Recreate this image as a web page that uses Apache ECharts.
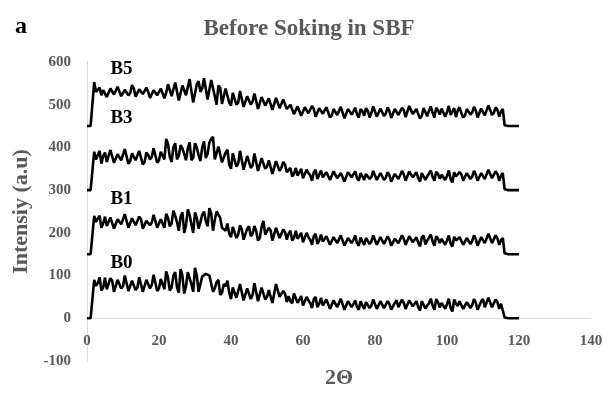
<!DOCTYPE html>
<html>
<head>
<meta charset="utf-8">
<script src="https://cdn.jsdelivr.net/npm/echarts@6/dist/echarts.min.js"></script>
<style>
  html, body { margin: 0; padding: 0; background: #fff; }
  #main { width: 608px; height: 400px; }
</style>
</head>
<body>
<div id="main"></div>
<script>
// 2θ positions, one reading every half degree from 0 to 120
var twoTheta = [];
for (var i = 0; i <= 240; i++) twoTheta.push(i / 2);

var xTicks = [0, 20, 40, 60, 80, 100, 120, 140];
var yTicks = [-100, 0, 100, 200, 300, 400, 500, 600];

var b5 = [450, 450, 450, 450, 553, 530,
  528, 540, 522, 534, 536, 518, 520, 538, 534, 524, 525, 542, 540, 520, 518, 535, 532, 522,
  527, 546, 538, 519, 521, 536, 533, 525, 526, 540, 530, 516, 519, 534, 537, 522, 524, 538,
  535, 515, 528, 548, 545, 520, 518, 552, 550, 510, 512, 545, 548, 522, 525, 560, 558, 505,
  508, 548, 555, 530, 538, 562, 565, 512, 515, 558, 560, 520, 500, 545, 540, 502, 505, 538,
  535, 505, 498, 528, 525, 500, 505, 532, 530, 495, 492, 520, 518, 500, 508, 526, 522, 490,
  494, 518, 520, 498, 500, 515, 512, 488, 490, 516, 515, 492, 496, 512, 508, 490,
  488, 500, 502, 478, 480, 496, 495, 474, 478, 494, 498, 480, 484, 497, 490, 472, 476, 492, 496, 479,
  482, 494, 492, 470, 475, 490, 488, 476, 480, 495, 494, 468, 472, 490, 489, 477, 484, 493, 478, 470,
  490, 485, 474, 492, 486, 470, 481, 496, 493, 472, 476, 491, 488, 474, 479, 494, 485, 469, 473, 490,
  491, 476, 480, 493, 487, 471, 475, 497, 495, 478, 482, 490, 478, 468, 474, 492, 490, 473, 486, 496,
  481, 470, 493, 487, 477, 491, 488, 472, 483, 497, 476, 480, 492, 471, 487, 494, 480, 470, 475, 490,
  490, 477, 482, 495, 486, 470, 474, 491, 494, 475, 479, 498, 497, 476, 481, 494, 488, 472, 484, 490,
  452, 450, 450, 450, 450, 450, 450, 450, 450];

var b3 = [300, 300, 300, 300, 390, 372,
  376, 392, 362, 380, 388, 366, 370, 394, 392, 364, 365, 384, 380, 370, 372, 396, 395, 362,
  368, 386, 384, 370, 374, 392, 390, 360, 366, 388, 382, 372, 378, 398, 394, 364, 370, 390,
  392, 372, 420, 408, 378, 366, 400, 410, 372, 380, 405, 398, 385, 370, 398, 412, 370, 376,
  410, 400, 382, 368, 400, 414, 375, 385, 412, 420, 425, 372, 372, 402, 405, 365, 362, 388,
  395, 360, 350, 386, 385, 355, 362, 392, 390, 348, 345, 380, 378, 352, 358, 386, 382, 345,
  348, 375, 372, 350, 355, 370, 368, 338, 340, 368, 365, 345, 352, 366, 360, 342,
  345, 352, 332, 338, 352, 334, 338, 350, 328, 330, 348, 340, 335, 322, 342, 348, 326, 336, 346, 330,
  334, 342, 340, 324, 325, 344, 346, 328, 330, 340, 338, 320, 322, 342, 344, 330, 333, 344, 328, 322,
  340, 332, 324, 338, 336, 326, 331, 345, 344, 324, 326, 340, 338, 324, 329, 342, 335, 320, 322, 338,
  341, 326, 330, 345, 337, 322, 325, 344, 345, 330, 332, 342, 328, 320, 340, 344, 324, 332, 336, 346,
  331, 322, 343, 338, 327, 336, 338, 324, 333, 346, 326, 318, 342, 332, 330, 342, 337, 322, 325, 340,
  340, 326, 332, 345, 336, 322, 324, 340, 344, 326, 329, 348, 347, 328, 331, 344, 338, 322, 334, 340,
  302, 300, 300, 300, 300, 300, 300, 300, 300];

var b1 = [150, 150, 150, 150, 240, 226,
  228, 240, 212, 222, 238, 216, 218, 236, 234, 210, 210, 232, 230, 220, 222, 244, 242, 212,
  215, 234, 236, 218, 220, 238, 232, 210, 208, 228, 228, 218, 224, 242, 240, 212, 214, 232,
  232, 212, 245, 235, 215, 222, 252, 240, 225, 205, 238, 248, 200, 218, 255, 242, 220, 200,
  248, 235, 210, 225, 242, 250, 228, 215, 258, 245, 205, 230, 250, 248, 235, 212, 215, 205,
  222, 198, 190, 214, 212, 188, 196, 218, 208, 184, 185, 210, 215, 192, 198, 216, 204, 182,
  188, 214, 228, 196, 195, 212, 206, 182, 186, 212, 210, 188, 192, 208, 202, 184,
  198, 205, 182, 188, 205, 186, 188, 200, 178, 182, 200, 190, 184, 172, 192, 198, 174, 182, 196, 180,
  182, 192, 190, 172, 172, 190, 188, 176, 180, 194, 194, 170, 170, 188, 187, 176, 183, 194, 176, 170,
  189, 180, 172, 188, 186, 174, 180, 194, 192, 172, 175, 190, 188, 174, 178, 192, 184, 170, 171, 186,
  190, 176, 179, 194, 186, 172, 174, 192, 194, 178, 181, 190, 177, 168, 189, 194, 173, 182, 185, 196,
  180, 170, 192, 186, 176, 186, 187, 172, 182, 194, 175, 168, 191, 182, 179, 190, 186, 172, 174, 188,
  189, 174, 181, 194, 185, 170, 173, 190, 193, 176, 178, 198, 196, 176, 180, 194, 187, 172, 183, 188,
  152, 150, 150, 150, 150, 150, 150, 150, 150];

var b0 = [0, 0, 0, 0, 90, 76,
  82, 96, 65, 72, 95, 68, 70, 94, 88, 62, 62, 90, 92, 70, 75, 100, 98, 64,
  68, 88, 85, 66, 72, 96, 94, 62, 66, 90, 88, 70, 78, 102, 100, 64, 70, 92,
  90, 68, 110, 95, 65, 72, 100, 108, 72, 60, 115, 100, 58, 75, 108, 112, 80, 62,
  118, 100, 62, 80, 98, 102, 104, 106, 100, 96, 62, 70, 85, 90, 55, 60, 80, 75,
  88, 60, 45, 72, 75, 48, 52, 80, 82, 42, 40, 70, 68, 45, 55, 82, 78, 40,
  42, 72, 70, 44, 50, 66, 62, 36, 38, 80, 84, 50, 48, 64, 58, 38,
  52, 40, 35, 58, 60, 36, 40, 52, 30, 28, 50, 42, 36, 24, 45, 50, 26, 34, 48, 30,
  34, 44, 42, 22, 24, 42, 40, 26, 30, 46, 46, 20, 22, 40, 38, 26, 33, 42, 27, 20,
  40, 30, 22, 38, 35, 24, 30, 44, 44, 22, 25, 40, 38, 24, 28, 40, 34, 20, 20, 36,
  42, 26, 29, 44, 36, 22, 24, 42, 46, 28, 31, 40, 26, 18, 40, 44, 23, 30, 35, 46,
  30, 20, 45, 38, 25, 36, 38, 22, 33, 46, 24, 16, 44, 34, 29, 40, 37, 22, 22, 38,
  41, 24, 31, 45, 36, 20, 23, 40, 45, 26, 28, 48, 47, 26, 30, 44, 38, 22, 34, 38,
  2, 0, 0, 0, 0, 0, 0, 0, 0];

var seriesNames = ['B5', 'B3', 'B1', 'B0'];
var seriesData = [b5, b3, b1, b0];
// where each curve's name sits: [2θ, intensity]
var labelAt = [[6.5, 584], [6.5, 468], [6.5, 280], [6.5, 130]];

var serif = '"Liberation Serif", "DejaVu Serif", serif';

var myChart = echarts.init(document.getElementById('main'));

var series = [];
for (var s = 0; s < seriesData.length; s++) {
  var pts = [];
  for (var k = 0; k < twoTheta.length; k++) pts.push([twoTheta[k], seriesData[s][k]]);
  series.push({
    name: seriesNames[s],
    type: 'line',
    data: pts,
    symbol: 'none',
    silent: true,
    lineStyle: { color: '#000', width: 2.6 },
    markPoint: {
      symbol: 'circle',
      symbolSize: 1,
      itemStyle: { color: 'rgba(0,0,0,0)' },
      label: {
        show: true,
        position: 'inside',
        align: 'left',
        formatter: seriesNames[s],
        color: '#000',
        fontFamily: serif,
        fontWeight: 'bold',
        fontSize: 19
      },
      data: [{ coord: labelAt[s] }]
    }
  });
}

var option = {
  animation: false,
  title: {
    text: 'Before Soking in SBF',
    left: 304,
    textAlign: 'center',
    top: 13,
    textStyle: { fontFamily: serif, fontWeight: 'bold', fontSize: 23, color: '#595959' }
  },
  graphic: [{
    type: 'text',
    left: 15,
    top: 15,
    style: { text: 'a', font: 'bold 24px ' + serif, fill: '#000' }
  }],
  grid: { left: 87, right: 17, top: 62, bottom: 39, outerBoundsMode: 'none' },
  xAxis: {
    type: 'value',
    min: xTicks[0],
    max: xTicks[xTicks.length - 1],
    interval: 20,
    // the horizontal axis crosses at intensity 0, 43px above the grid bottom
    offset: -43,
    name: '2\u0398',
    nameLocation: 'middle',
    nameGap: 49,
    nameTextStyle: { fontFamily: serif, fontWeight: 'bold', fontSize: 22, color: '#595959' },
    axisLine: { onZero: false, lineStyle: { color: '#d9d9d9', width: 1 } },
    axisTick: { show: false },
    splitLine: { show: false },
    axisLabel: { margin: 16, fontFamily: serif, fontWeight: 'bold', fontSize: 15, color: '#595959' }
  },
  yAxis: {
    type: 'value',
    min: yTicks[0],
    max: yTicks[yTicks.length - 1],
    interval: 100,
    name: 'Intensiy (a.u)',
    nameLocation: 'middle',
    nameGap: 52,
    nameTextStyle: { fontFamily: serif, fontWeight: 'bold', fontSize: 22, color: '#595959' },
    axisLine: { show: true, lineStyle: { color: '#d9d9d9', width: 1 } },
    axisTick: { show: false },
    splitLine: { show: false },
    axisLabel: { margin: 16, fontFamily: serif, fontWeight: 'bold', fontSize: 15, color: '#595959' }
  },
  series: series
};

myChart.setOption(option);
</script>
</body>
</html>
